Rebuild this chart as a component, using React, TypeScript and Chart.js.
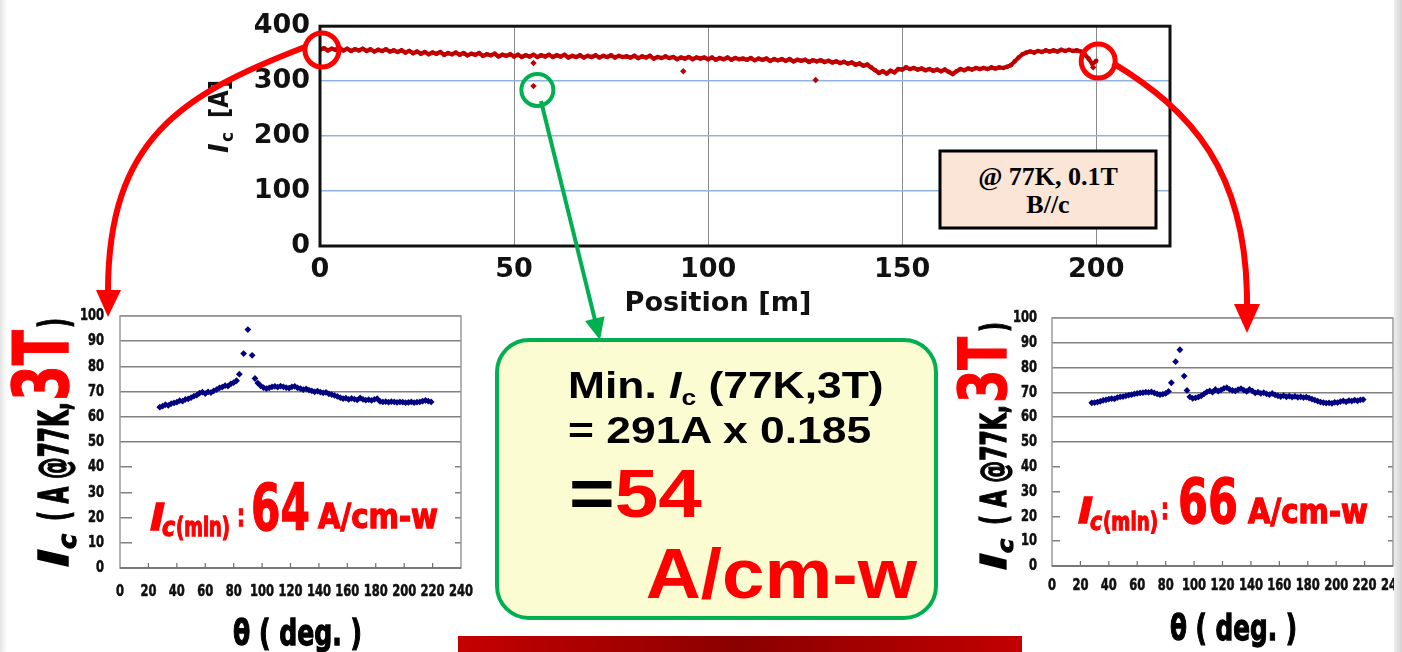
import { useEffect, useRef } from "react";
import { Chart, registerables } from "chart.js";

Chart.register(...registerables);

// Ic along the tape at 77 K, 0.1 T (B//c): one reading per metre, starting at 0 m
const SAMPLE_STEP_M = 1;
const tapeIc = [
  357, 360, 356, 359, 357, 361, 356, 359, 355, 358,
  356, 359, 355, 358, 354, 357, 355, 358, 354, 356,
  353, 356, 352, 355, 351, 354, 350, 353, 349, 352,
  350, 353, 348, 351, 349, 352, 348, 351, 347, 350,
  348, 351, 346, 349, 347, 350, 345, 348, 346, 349,
  345, 348, 344, 347, 345, 348, 344, 347, 345, 348,
  344, 347, 345, 348, 343, 346, 344, 347, 343, 346,
  344, 347, 343, 346, 344, 347, 343, 346, 344, 345,
  343, 346, 342, 345, 343, 346, 341, 344, 342, 345,
  342, 344, 340, 343, 341, 344, 340, 343, 341, 343,
  340, 343, 339, 342, 340, 343, 339, 342, 340, 341,
  339, 342, 338, 341, 339, 341, 337, 340, 338, 340,
  337, 340, 336, 339, 337, 339, 335, 338, 336, 338,
  335, 337, 334, 336, 333, 335, 332, 334, 330, 332,
  328, 330, 325, 320, 315, 318, 314, 319, 316, 322,
  321, 325, 322, 324, 321, 323, 320, 322, 319, 321,
  318, 321, 317, 313, 318, 322, 320, 323, 321, 324,
  322, 324, 322, 325, 323, 325, 324, 326, 329, 336,
  343, 349, 352, 354, 352, 355, 353, 356, 354, 356,
  354, 357, 355, 357, 355, 356, 354, 349, 341, 331,
  337,
];
// isolated low readings along the tape
const dropPositions = [55, 55, 93.6, 127.7, 199.2];
const dropIc = [333, 291, 318, 302, 325];
const positionTicks = [0, 50, 100, 150, 200];
const tapeIcTicks = [0, 100, 200, 300, 400];

// rings around the examined spots (position m, Ic A)
const ringX = [0.5, 200.5, 56];
const ringY = [356.5, 336.5, 284];
const ringColor = ["#ff0000", "#ff0000", "#00b050"];
const ringRadius = [17, 17, 16];
const ringWidth = [5, 5, 4];

// angular dependence of Ic at 77 K, 3 T for both tape ends
const thetaDeg = [
  28, 30, 32, 34, 36, 38, 40, 42, 44, 46, 48, 50, 52, 54, 56, 58, 60, 62, 64, 66,
  68, 70, 72, 74, 76, 78, 80, 82, 84, 87, 90, 93,
  95, 97, 99, 101, 103, 105, 107, 109, 111, 113, 115, 117, 119, 121, 123, 125, 127, 129,
  131, 133, 135, 137, 139, 141, 143, 145, 147, 149, 151, 153, 155, 157, 159, 161, 163, 165,
  167, 169, 171, 173, 175, 177, 179, 181, 183, 185, 187, 189, 191, 193, 195, 197, 199, 201,
  203, 205, 207, 209, 211, 213, 215, 217, 219,
];
const icStartEnd = [
  63.8, 64.2, 64.8, 64.5, 65.2, 65.5, 65.8, 66.4, 66.2, 66.9, 67.1, 67.6, 68.2, 68.6, 69.4,
  69.8, 69.2, 69.9, 69.6, 70.3, 70.8, 71.5, 71.8, 72.4, 72.2, 73.1, 73.6, 74.3, 76.9,
  85.1, 94.6, 84.4,
  75.2, 73.4, 72.3, 71.6, 71.2, 71.5, 71.9, 72.1, 71.8, 72.2,
  71.9, 71.6, 71.4, 71.9, 72.1, 71.5, 71.2, 70.8, 71.1, 70.6,
  70.3, 69.9, 70.2, 69.8, 69.5, 69.7, 69.1, 68.8, 68.5, 68.1,
  67.6, 67.2, 67.4, 66.9, 67.3, 67.0, 66.7, 67.5, 66.9, 66.6,
  66.8, 66.5, 66.9, 67.2, 66.1, 65.9, 66.0, 65.8, 66.0, 65.9,
  65.7, 65.9, 65.8, 65.6, 65.7, 65.9, 65.6, 65.8, 65.9, 66.2,
  66.5, 66.2, 65.9,
];
const icFinishEnd = [
  65.8, 65.9, 66.1, 66.4, 66.8, 67.0, 67.3, 67.5, 67.4, 67.9, 68.2, 68.3, 68.6, 68.9, 69.1,
  69.4, 69.6, 69.8, 69.9, 70.1, 70.0, 70.2, 69.8, 69.4, 69.1, 69.3, 69.6, 70.4, 73.9,
  82.4, 87.2, 76.6,
  70.8, 68.2, 67.6, 67.8, 68.1, 68.6, 69.4, 70.2, 70.6, 70.1,
  71.2, 70.5, 71.0, 71.6, 71.9, 71.2, 70.8, 70.6, 71.1, 71.5,
  70.9, 70.4, 71.2, 70.6, 69.8, 70.1, 69.6, 69.9, 69.4, 69.1,
  69.6, 69.0, 68.6, 68.3, 68.7, 68.2, 68.5, 68.1, 68.4, 68.0,
  68.2, 67.9, 68.1, 67.7, 67.3, 66.9, 66.5, 66.1, 65.9, 65.7,
  65.8, 65.6, 66.0, 65.9, 66.3, 66.6, 66.2, 66.7, 66.5, 66.9,
  66.6, 67.0, 67.1,
];
const thetaTicks = [0, 20, 40, 60, 80, 100, 120, 140, 160, 180, 200, 220, 240];
const angleIcTicks = [0, 10, 20, 30, 40, 50, 60, 70, 80, 90, 100];

const CLEAR = "rgba(0,0,0,0)";
const RED = "#ff0000";
const DV = '"DejaVu Sans", sans-serif';
const ARIAL = '"Liberation Sans", Arial, sans-serif';
const SERIF = '"Liberation Serif", "Times New Roman", serif';

function makeTapeChart(canvas: HTMLCanvasElement) {
  const frame = {
    id: "tapeFrame",
    afterDraw(chart: any) {
      const { ctx, chartArea: a, scales } = chart;
      ctx.save();
      ctx.strokeStyle = "#111";
      ctx.lineWidth = 3;
      ctx.strokeRect(a.left, a.top, a.right - a.left, a.bottom - a.top);
      for (let i = 0; i < ringX.length; i++) {
        ctx.beginPath();
        ctx.arc(
          scales.x.getPixelForValue(ringX[i]),
          scales.y.getPixelForValue(ringY[i]),
          ringRadius[i], 0, Math.PI * 2
        );
        ctx.strokeStyle = ringColor[i];
        ctx.lineWidth = ringWidth[i];
        ctx.stroke();
      }
      ctx.restore();
    },
  };
  const tickFont = { family: DV, size: 27, weight: "bold" as const };
  return new Chart(canvas, {
    type: "scatter",
    data: {
      datasets: [
        {
          data: tapeIc.map((v, i) => ({ x: i * SAMPLE_STEP_M, y: v })),
          showLine: true,
          borderColor: "#c00000",
          borderWidth: 4.2,
          pointRadius: 2.3,
          pointBackgroundColor: "#c00000",
          pointBorderWidth: 0,
        },
        {
          data: dropPositions.map((p, i) => ({ x: p, y: dropIc[i] })),
          showLine: false,
          pointStyle: "rectRot",
          pointRadius: 3.2,
          pointBackgroundColor: "#c00000",
          pointBorderWidth: 0,
        },
      ],
    },
    options: {
      animation: false,
      responsive: false,
      layout: { padding: { top: 19, right: 30, left: 0, bottom: 0 } },
      plugins: { legend: { display: false }, tooltip: { enabled: false } },
      scales: {
        x: {
          type: "linear",
          min: 0,
          max: 219,
          afterBuildTicks: (s: any) => { s.ticks = positionTicks.map((v) => ({ value: v })); },
          afterFit: (s: any) => { s.height = 54; },
          grid: {
            color: (c: any) => (c.tick && c.tick.value === 0 ? CLEAR : "#8a8a8a"),
            lineWidth: 1,
            drawTicks: false,
          },
          border: { display: false },
          ticks: { font: tickFont, color: "#111", padding: 8, maxRotation: 0, autoSkip: false },
        },
        y: {
          min: 0,
          max: 400,
          afterBuildTicks: (s: any) => { s.ticks = tapeIcTicks.map((v) => ({ value: v })); },
          afterFit: (s: any) => { s.width = 130; },
          grid: {
            color: (c: any) =>
              c.tick && (c.tick.value === 0 || c.tick.value === 400) ? CLEAR : "#8db3e2",
            lineWidth: 1.5,
            drawTicks: false,
          },
          border: { display: false },
          ticks: { font: tickFont, color: "#111", padding: 10 },
        },
      },
    },
    plugins: [frame],
  });
}

function makeAngleChart(
  canvas: HTMLCanvasElement,
  ic: number[],
  xAxisHeight: number,
  labelDrop: number,
  labelGap: number
) {
  const condensed = (ctx: any, text: string, x: number, y: number, align: string) => {
    ctx.save();
    ctx.translate(x, y);
    ctx.scale(0.72, 1);
    ctx.textAlign = align;
    ctx.textBaseline = "middle";
    ctx.fillText(text, 0, 0);
    ctx.strokeText(text, 0, 0);
    ctx.restore();
  };
  const decor = {
    id: "angleDecor",
    beforeDatasetsDraw(chart: any) {
      const { ctx, chartArea: a, scales } = chart;
      ctx.save();
      ctx.strokeStyle = "#9a9a9a";
      ctx.lineWidth = 1.5;
      ctx.strokeRect(a.left, a.top, a.right - a.left, a.bottom - a.top);
      ctx.strokeStyle = "#6e6e6e";
      ctx.beginPath();
      ctx.moveTo(a.left, a.bottom);
      ctx.lineTo(a.right, a.bottom);
      ctx.stroke();
      ctx.lineWidth = 1.2;
      for (const t of scales.x.ticks) {
        if (t.value === 0 || t.value === 240) continue;
        const px = scales.x.getPixelForValue(t.value);
        ctx.beginPath();
        ctx.moveTo(px, a.bottom);
        ctx.lineTo(px, a.bottom - 5);
        ctx.stroke();
      }
      ctx.restore();
    },
    afterDraw(chart: any) {
      const { ctx, chartArea: a, scales } = chart;
      ctx.save();
      ctx.fillStyle = "#111";
      ctx.strokeStyle = "#111";
      ctx.lineWidth = 0.6;
      ctx.font = `bold 16px ${DV}`;
      for (const t of scales.y.ticks) {
        condensed(ctx, String(t.value), a.left - labelGap, scales.y.getPixelForValue(t.value), "right");
      }
      for (const t of scales.x.ticks) {
        condensed(ctx, String(t.value), scales.x.getPixelForValue(t.value), a.bottom + labelDrop, "center");
      }
      ctx.restore();
    },
  };
  return new Chart(canvas, {
    type: "scatter",
    data: {
      datasets: [
        {
          data: thetaDeg.map((t, i) => ({ x: t, y: ic[i] })),
          pointStyle: "rectRot",
          pointRadius: 3.4,
          pointBackgroundColor: "#000080",
          pointBorderWidth: 0,
        },
      ],
    },
    options: {
      animation: false,
      responsive: false,
      layout: { padding: { top: 16, right: 29, left: 0, bottom: 0 } },
      plugins: { legend: { display: false }, tooltip: { enabled: false } },
      scales: {
        x: {
          type: "linear",
          min: 0,
          max: 240,
          afterBuildTicks: (s: any) => { s.ticks = thetaTicks.map((v) => ({ value: v })); },
          afterFit: (s: any) => { s.height = xAxisHeight; },
          grid: { display: false },
          border: { display: false },
          ticks: { display: false },
        },
        y: {
          min: 0,
          max: 100,
          afterBuildTicks: (s: any) => { s.ticks = angleIcTicks.map((v) => ({ value: v })); },
          afterFit: (s: any) => { s.width = 60; },
          grid: { color: "#808080", lineWidth: 1.5, drawTicks: false },
          border: { display: false },
          ticks: { display: false },
        },
      },
    },
    plugins: [decor],
  });
}

const heavy = (color: string) => ({
  fontFamily: DV,
  fontWeight: "bold" as const,
  fill: color,
  stroke: color,
  strokeWidth: 1.3,
});

export default function App() {
  const tapeRef = useRef<HTMLCanvasElement>(null);
  const startRef = useRef<HTMLCanvasElement>(null);
  const finishRef = useRef<HTMLCanvasElement>(null);

  useEffect(() => {
    const charts = [
      makeTapeChart(tapeRef.current!),
      makeAngleChart(startRef.current!, icStartEnd, 32, 24, 16),
      makeAngleChart(finishRef.current!, icFinishEnd, 36, 20, 15),
    ];
    return () => charts.forEach((c) => c.destroy());
  }, []);

  return (
    <div
      style={{
        position: "absolute",
        left: 0,
        top: 0,
        width: 1402,
        height: 652,
        background: "#ffffff",
        overflow: "hidden",
      }}
    >
      <canvas ref={tapeRef} width={1010} height={300}
        style={{ position: "absolute", left: 190, top: 0, width: 1010, height: 300 }} />
      <canvas ref={startRef} width={430} height={300}
        style={{ position: "absolute", left: 60, top: 300, width: 430, height: 300 }} />
      <canvas ref={finishRef} width={430} height={300}
        style={{ position: "absolute", left: 992, top: 302, width: 430, height: 300 }} />

      <svg width={1402} height={652}
        style={{ position: "absolute", left: 0, top: 0, pointerEvents: "none" }}>
        <defs>
          <linearGradient id="barFill" x1="0" x2="1" y1="0" y2="0">
            <stop offset="0" stopColor="#c60000" />
            <stop offset="0.5" stopColor="#8a0000" />
            <stop offset="1" stopColor="#c20000" />
          </linearGradient>
          <linearGradient id="edgeRight" x1="0" x2="1" y1="0" y2="0">
            <stop offset="0" stopColor="#eeeeee" />
            <stop offset="1" stopColor="#d2d2d2" />
          </linearGradient>
          <linearGradient id="edgeLeft" x1="0" x2="1" y1="0" y2="0">
            <stop offset="0" stopColor="#e4e4e4" />
            <stop offset="1" stopColor="#ffffff" />
          </linearGradient>
        </defs>

        <rect x={0} y={0} width={7} height={652} fill="url(#edgeLeft)" />
        <rect x={1394} y={0} width={8} height={652} fill="url(#edgeRight)" />

        {/* tape chart legend and titles */}
        <rect x={940} y={151} width={216} height={77} fill="#fbe5d6" stroke="#000" strokeWidth={3} />
        <text x={1048} y={185} textAnchor="middle" fontFamily={SERIF} fontWeight="bold" fontSize={26}>
          @ 77K, 0.1T
        </text>
        <text x={1048} y={213} textAnchor="middle" fontFamily={SERIF} fontWeight="bold" fontSize={26}>
          B//c
        </text>
        <g transform="translate(228,0) rotate(-90)" fontFamily={DV} fontWeight="bold" fill="#111">
          <text x={-153} y={0} fontSize={26} fontStyle="italic">I</text>
          <text x={-142} y={5} fontSize={17}>c</text>
          <text x={-118} y={0} fontSize={26} textLength={38} lengthAdjust="spacingAndGlyphs">[A]</text>
        </g>
        <text x={718} y={311} textAnchor="middle" fontFamily={DV} fontWeight="bold" fontSize={26}
          textLength={187} lengthAdjust="spacingAndGlyphs" fill="#111">
          Position [m]
        </text>

        {/* angle charts: label boxes */}
        <rect x={132} y={455} width={323} height={105} fill="#ffffff" />
        <rect x={1060} y={452} width={328} height={106} fill="#ffffff" />

        <g {...heavy(RED)}>
          <text x={150} y={530} fontSize={38} fontStyle="italic" textLength={15} lengthAdjust="spacingAndGlyphs">I</text>
          <text x={162} y={536} fontSize={26} fontStyle="italic" textLength={13} lengthAdjust="spacingAndGlyphs">c</text>
          <text x={176} y={536} fontSize={26} textLength={54} lengthAdjust="spacingAndGlyphs">(min)</text>
          <text x={237} y={526} fontSize={30} textLength={8} lengthAdjust="spacingAndGlyphs">:</text>
          <text x={251} y={530} fontSize={64} textLength={59} lengthAdjust="spacingAndGlyphs">64</text>
          <text x={318} y={528} fontSize={34} textLength={120} lengthAdjust="spacingAndGlyphs">A/cm-w</text>

          <text x={1078} y={523} fontSize={36} fontStyle="italic" textLength={15} lengthAdjust="spacingAndGlyphs">I</text>
          <text x={1090} y={530} fontSize={25} fontStyle="italic" textLength={12} lengthAdjust="spacingAndGlyphs">c</text>
          <text x={1103} y={530} fontSize={25} textLength={55} lengthAdjust="spacingAndGlyphs">(min)</text>
          <text x={1161} y={519} fontSize={29} textLength={8} lengthAdjust="spacingAndGlyphs">:</text>
          <text x={1178} y={523} fontSize={62} textLength={60} lengthAdjust="spacingAndGlyphs">66</text>
          <text x={1248} y={523} fontSize={33} textLength={120} lengthAdjust="spacingAndGlyphs">A/cm-w</text>
        </g>

        {/* angle chart axis titles */}
        <g transform="translate(68,0) rotate(-90)" {...heavy("#000")}>
          <text x={-567} y={0} fontSize={40} fontStyle="italic" textLength={18} lengthAdjust="spacingAndGlyphs">I</text>
          <text x={-549} y={8} fontSize={24} fontStyle="italic" textLength={15} lengthAdjust="spacingAndGlyphs">c</text>
          <text x={-521} y={0} fontSize={41} textLength={119} lengthAdjust="spacingAndGlyphs">( A @77K,</text>
          <text x={-401} y={0} fontSize={76} textLength={71} lengthAdjust="spacingAndGlyphs" fill={RED} stroke={RED}>3T</text>
          <text x={-328} y={0} fontSize={41} textLength={10} lengthAdjust="spacingAndGlyphs">)</text>
        </g>
        <g transform="translate(1006,0) rotate(-90)" {...heavy("#000")}>
          <text x={-570} y={0} fontSize={36} fontStyle="italic" textLength={17} lengthAdjust="spacingAndGlyphs">I</text>
          <text x={-553} y={7} fontSize={22} fontStyle="italic" textLength={14} lengthAdjust="spacingAndGlyphs">c</text>
          <text x={-525} y={0} fontSize={36} textLength={120} lengthAdjust="spacingAndGlyphs">( A @77K,</text>
          <text x={-403} y={0} fontSize={66} textLength={66} lengthAdjust="spacingAndGlyphs" fill={RED} stroke={RED}>3T</text>
          <text x={-332} y={0} fontSize={36} textLength={10} lengthAdjust="spacingAndGlyphs">)</text>
        </g>
        <g {...heavy("#000")}>
          <text x={233} y={645} fontSize={36} textLength={129} lengthAdjust="spacingAndGlyphs">θ ( deg. )</text>
          <text x={1170} y={640} fontSize={36} textLength={127} lengthAdjust="spacingAndGlyphs">θ ( deg. )</text>
        </g>

        {/* result box */}
        <rect x={497} y={340} width={439} height={278} rx={32} ry={32}
          fill="#fcfcd2" stroke="#00b050" strokeWidth={4} />
        <text transform="translate(568,398) scale(1.2,1)" fontFamily={ARIAL} fontWeight="bold" fontSize={37} fill="#000">
          Min. <tspan fontStyle="italic">I</tspan>
          <tspan fontSize={22} dy={7}>c</tspan>
          <tspan dy={-7}> (77K,3T)</tspan>
        </text>
        <text transform="translate(568,443) scale(1.2,1)" fontFamily={ARIAL} fontWeight="bold" fontSize={37} fill="#000">
          = 291A x 0.185
        </text>
        <text transform="translate(569,517) scale(1.15,1)" fontFamily={ARIAL} fontWeight="bold" fontSize={68} fill="#000">
          =<tspan fill={RED}>54</tspan>
        </text>
        <text transform="translate(917,598) scale(1.09,1)" textAnchor="end" fontFamily={ARIAL} fontWeight="bold" fontSize={70} fill={RED}>
          A/cm-w
        </text>

        <rect x={458} y={636} width={564} height={16} fill="url(#barFill)" />

        {/* arrows from the tape to the angle scans */}
        <path d="M 305 47 C 180 95, 108 140, 108 292" stroke={RED} strokeWidth={6} fill="none" />
        <polygon points="96,290 121,290 108,317" fill={RED} />
        <path d="M 1113 63 C 1190 110, 1248 170, 1247 306" stroke={RED} strokeWidth={6} fill="none" />
        <polygon points="1234,304 1260,304 1247,333" fill={RED} />
        <line x1={541} y1={101} x2={595} y2={320} stroke="#00b050" strokeWidth={4} />
        <polygon points="585,321 604.5,316.2 600,340" fill="#00b050" />
      </svg>
    </div>
  );
}
